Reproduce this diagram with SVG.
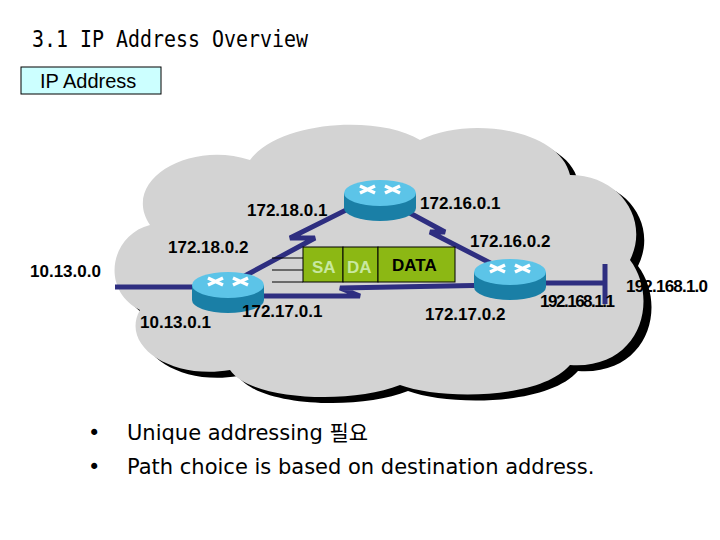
<svg xmlns="http://www.w3.org/2000/svg" width="720" height="540" viewBox="0 0 720 540">
<style>
.t{font-family:"Liberation Sans",Arial,sans-serif;font-weight:bold;font-size:17px;fill:#000}
.ln{stroke:#2e2e80;stroke-width:5;fill:none}
.mono{font-family:"DejaVu Sans Mono","Liberation Mono",monospace;font-size:23px;fill:#000}
.b{font-family:"DejaVu Sans","Noto Sans CJK KR",sans-serif;font-size:21px;fill:#000}
</style>
<defs>
<g id="rt">
<path d="M-36,0 V15 A36,13 0 0 0 36,15 V0 Z" fill="#1a7fa6"/>
<ellipse cx="0" cy="0" rx="36" ry="13" fill="#5cc4e8"/>
<path d="M-20,-7 L-5,0 M-5,-7 L-20,0 M20,-7 L5,0 M5,-7 L20,0" stroke="#fff" stroke-width="3.5"/>
</g>
</defs>
<rect width="720" height="540" fill="#fff"/>
<text x="32" y="47" class="mono" textLength="276" lengthAdjust="spacingAndGlyphs">3.1 IP Address Overview</text>
<rect x="21" y="67" width="140" height="27" fill="#ccffff" stroke="#000"/>
<text x="40" y="88" font-family="Liberation Sans,Arial,sans-serif" font-size="20" fill="#000">IP Address</text>
<g id="cloud">
<path d="M150,225 C120,180 190,140 250,160 C280,120 380,115 420,140 C470,115 560,130 570,175 C620,175 650,220 630,260 C660,300 640,370 570,365 C540,400 440,400 400,385 C350,405 250,400 230,370 C170,380 120,345 140,310 C100,290 110,235 150,225 Z" fill="#000" transform="translate(8,6)"/>
<path d="M150,225 C120,180 190,140 250,160 C280,120 380,115 420,140 C470,115 560,130 570,175 C620,175 650,220 630,260 C660,300 640,370 570,365 C540,400 440,400 400,385 C350,405 250,400 230,370 C170,380 120,345 140,310 C100,290 110,235 150,225 Z" fill="#d3d3d3"/>
</g>
<g id="connectors">
<path class="ln" d="M228,285 L315,238 L290,238 L350,208 L380,200"/>
<path class="ln" d="M395,205 L445,232 L430,232 L500,268"/>
<path class="ln" d="M250,296 L360,296 L340,288 L500,285"/>
<path class="ln" d="M115,287 L200,287"/>
<path class="ln" d="M540,283 L605,283"/>
<path class="ln" d="M605,264 V304"/>
</g>
<g id="router-top"><use href="#rt" x="380" y="193"/></g>
<g id="router-left"><use href="#rt" x="228" y="285"/></g>
<g id="router-right"><use href="#rt" x="510" y="272"/></g>
<g id="packet">
<path d="M272,258 H303 M272,270 H303 M272,282 H303" stroke="#000" stroke-width="1"/>
<rect x="303" y="247" width="40" height="35" fill="#8cb814" stroke="#000"/>
<rect x="343" y="247" width="35" height="35" fill="#8cb814" stroke="#000"/>
<rect x="378" y="247" width="77" height="35" fill="#8cb814" stroke="#000"/>
<text x="312" y="273" class="t" style="fill:#c8e8a0">SA</text>
<text x="347" y="273" class="t" style="fill:#c8e8a0">DA</text>
<text x="392" y="271" class="t">DATA</text>
</g>
<text x="247" y="216" class="t">172.18.0.1</text>
<text x="420" y="209" class="t">172.16.0.1</text>
<text x="168" y="253" class="t">172.18.0.2</text>
<text x="470" y="247" class="t">172.16.0.2</text>
<text x="30" y="277" class="t">10.13.0.0</text>
<text x="140" y="328" class="t">10.13.0.1</text>
<text x="242" y="317" class="t">172.17.0.1</text>
<text x="425" y="320" class="t">172.17.0.2</text>
<text x="626" y="292" class="t" textLength="82">192.168.1.0</text>
<text x="540" y="307" class="t" textLength="75">192.168.1.1</text>
<text x="88" y="440" class="b">•</text>
<text x="127" y="440" class="b">Unique addressing 필요</text>
<text x="88" y="474" class="b">•</text>
<text x="127" y="474" class="b">Path choice is based on destination address.</text>
</svg>
